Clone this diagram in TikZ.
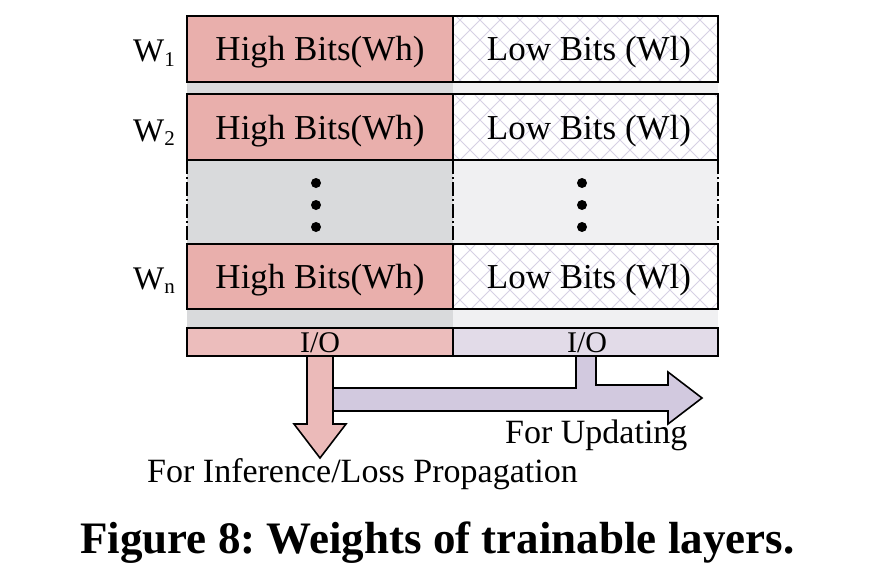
\documentclass[tikz,border=0pt]{standalone}
\usepackage{fontspec}
\setmainfont{Liberation Serif}
\frenchspacing
\definecolor{pinkc}{HTML}{E9AFAC}
\definecolor{greyL}{HTML}{D9DADC}
\definecolor{greyR}{HTML}{F0F0F2}
\definecolor{hatchc}{HTML}{D6D0E4}
\definecolor{ioL}{HTML}{ECBDBC}
\definecolor{ioR}{HTML}{E2DBE8}
\definecolor{arrP}{HTML}{D2C9DF}
\definecolor{arrK}{HTML}{EBBAB9}
\tikzset{
  bd/.style={line width=1.6pt, black},
  hatchline/.style={hatchc, line width=1pt},
  celltxt/.style={font=\fontsize{35}{40}\selectfont, inner sep=0pt, anchor=base},
  wlab/.style={font=\fontsize{33}{38}\selectfont, inner sep=0pt, anchor=base west},
  iotxt/.style={font=\fontsize{30}{34}\selectfont, inner sep=0pt, anchor=base},
  lbl/.style={font=\fontsize{34}{38}\selectfont, inner sep=0pt, anchor=base west},
  captxt/.style={font=\fontsize{45}{50}\selectfont\bfseries, inner sep=0pt, anchor=base west}
}
\begin{document}
\begin{tikzpicture}[x=1pt,y=-1pt,line join=miter]
\useasboundingbox (0,0) rectangle (874,586);
% grey strips
\fill[greyL] (187,82) rectangle (453,94);
\fill[greyR] (453,82) rectangle (718,94);
\fill[greyL] (187,160) rectangle (453,244);
\fill[greyR] (453,160) rectangle (718,244);
\fill[greyL] (187,309) rectangle (453,328);
\fill[greyR] (453,309) rectangle (718,328);
% cells
\foreach \a/\b in {16/82,94/160,244/309}{
  \fill[pinkc] (187,\a) rectangle (453,\b);
  \fill[white] (453,\a) rectangle (718,\b);
}
\begin{scope}
  \clip (453,16) rectangle (718,82) (453,94) rectangle (718,160) (453,244) rectangle (718,309);
  \foreach \k in {0,20,...,1200}{
    \draw[hatchline] (\k,0) -- ++(-400,400);
    \draw[hatchline] (\k-400,0) -- ++(400,400);
  }
\end{scope}
\foreach \a/\b in {16/82,94/160,244/309}{
  \draw[bd] (187,\a) rectangle (718,\b);
  \draw[bd] (453,\a) -- (453,\b);
}
% dash-dot sides of the ellipsis section
\foreach \x in {187,453,718}{
  \draw[bd, dash pattern=on 14pt off 3pt on 2pt off 3pt] (\x,160) -- (\x,244);
}
\draw[black, line width=1pt, dash pattern=on 8pt off 3pt] (187,327) -- (718,327);
% dots
\foreach \x in {316,582}{
  \foreach \y in {183,205,227}{
    \fill[black] (\x,\y) circle (5pt);
  }
}
% I/O bars
\fill[ioL] (187,328) rectangle (453,356);
\fill[ioR] (453,328) rectangle (718,356);
\draw[bd] (187,328) rectangle (718,356);
\draw[bd] (453,328) -- (453,356);
% arrows
\draw[bd, fill=arrP] (333,388) -- (576,388) -- (576,356) -- (596,356) -- (596,385) -- (668,385) -- (668,372) -- (702,398) -- (668,424) -- (668,411) -- (333,411) -- cycle;
\draw[bd, fill=arrK] (307,356) -- (333,356) -- (333,424) -- (346,424) -- (320,458) -- (294,424) -- (307,424) -- cycle;
% texts
\node[celltxt] (h1) at (320,60.5) {High Bits(Wh)};
\node[celltxt] (h2) at (320,139) {High Bits(Wh)};
\node[celltxt] (hn) at (320,288) {High Bits(Wh)};
\node[celltxt] (l1) at (589,60.5) {Low Bits (Wl)};
\node[celltxt] (l2) at (589,139) {Low Bits (Wl)};
\node[celltxt] (ln) at (589,288) {Low Bits (Wl)};
\node[wlab] (w1) at (133,62) {W\raisebox{-0.3ex}{\fontsize{21}{24}\selectfont 1}};
\node[wlab] (w2) at (133,141) {W\raisebox{-0.3ex}{\fontsize{21}{24}\selectfont 2}};
\node[wlab] (wn) at (133,289) {W\raisebox{-0.3ex}{\fontsize{21}{24}\selectfont n}};
\node[iotxt] (io1) at (320,352) {I/O};
\node[iotxt] (io2) at (587,352) {I/O};
\node[lbl] (upd) at (505,443) {For Updating};
\node[lbl] (inf) at (147,482) {For Inference/Loss Propagation};
\node[captxt] (cap) at (80,553) {Figure 8: Weights of trainable layers.};
\end{tikzpicture}
\end{document}
